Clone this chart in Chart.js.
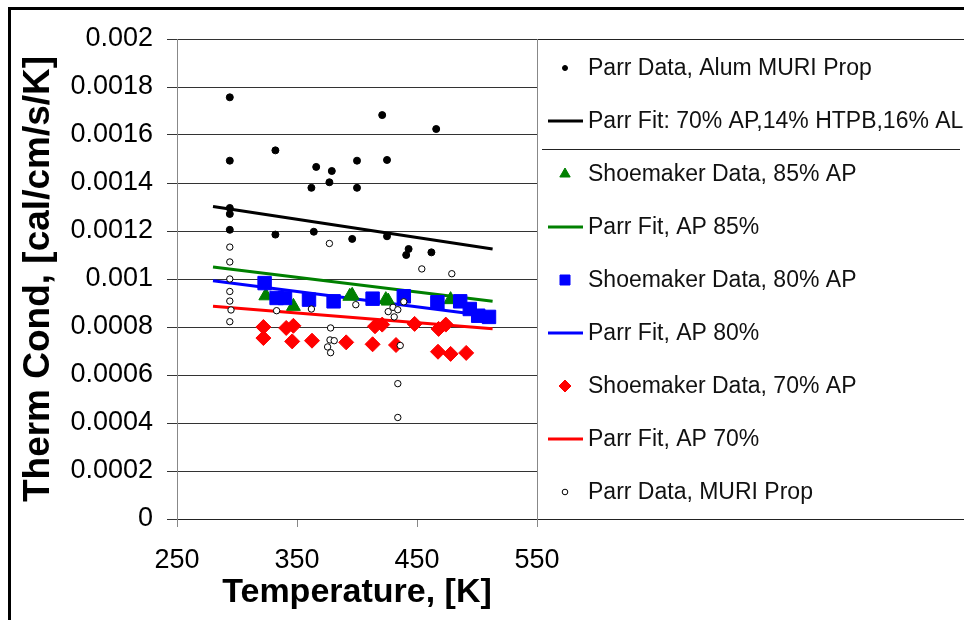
<!DOCTYPE html>
<html>
<head>
<meta charset="utf-8">
<script src="https://cdn.jsdelivr.net/npm/chart.js@4"></script>
<style>
  html, body { margin: 0; padding: 0; background: #fff; overflow: hidden; }
  #wrap { width: 964px; height: 620px; position: relative; }
</style>
</head>
<body>
<div id="wrap"><canvas id="condChart"></canvas></div>
<script>
const FONT = '"Liberation Sans", Arial, sans-serif';

// Parr Data, Alum MURI Prop (filled black dots)
const alumTemp = [294, 294, 294, 294, 294, 332, 332, 362, 364, 366, 377, 379, 396, 400, 400, 421, 425, 425, 441, 443, 462, 466];
const alumCond = [0.001757, 0.001493, 0.001296, 0.001271, 0.001205, 0.001536, 0.001185, 0.00138, 0.001197, 0.001467, 0.001403, 0.00145,
  0.001167, 0.001493, 0.00138, 0.001683, 0.001496, 0.001178, 0.0011, 0.001125, 0.001111, 0.001625];

// Parr Data, MURI Prop (open circles)
const muriTemp = [294, 294, 294, 294, 294, 295, 294, 333, 362, 377, 375.5, 377.5, 378, 378, 381, 399, 426, 430, 431, 434, 434, 434, 436, 439, 454, 479];
const muriCond = [0.001133, 0.001071, 0.001, 0.000948, 0.000908, 0.000871, 0.000822, 0.000868, 0.000875, 0.001148, 0.000717, 0.000746, 0.000693,
  0.000796, 0.000743, 0.000893, 0.000864, 0.000882, 0.000842, 0.000872, 0.000564, 0.000423, 0.000723, 0.000905, 0.001042, 0.001022];

// Shoemaker data
const ap85Temp = [324, 347, 394, 396, 424, 426, 478];
const ap85Cond = [0.00093, 0.000886, 0.000928, 0.000932, 0.000914, 0.000908, 0.000914];

const ap80Temp = [323, 333, 340, 360, 380.5, 413, 439, 467, 486, 494, 501, 510];
const ap80Cond = [0.000983, 0.000921, 0.000921, 0.000914, 0.000907, 0.000918, 0.000928, 0.000903, 0.000907, 0.000875, 0.000847, 0.000842];

const ap70Temp = [322, 322, 341, 347, 346, 362.5, 391, 413, 415, 421, 432.5, 448, 468, 474, 467.5, 478, 491];
const ap70Cond = [0.0008, 0.000754, 0.000796, 0.000805, 0.00074, 0.000743, 0.000736, 0.000728, 0.000803, 0.00081, 0.000725, 0.000813,
  0.000792, 0.00081, 0.000697, 0.000688, 0.000692];

// Parr fits (end points)
const fitTemp = [280, 513];
const fitAlum = [0.0013025, 0.001125];
const fit85 = [0.00105, 0.000907];
const fit80 = [0.000993, 0.000844];
const fit70 = [0.000886, 0.000793];

const xTicks = [250, 350, 450, 550];
const yTicks = [0, 0.0002, 0.0004, 0.0006, 0.0008, 0.001, 0.0012, 0.0014, 0.0016, 0.0018, 0.002];
const yTickLabels = ["0", "0.0002", "0.0004", "0.0006", "0.0008", "0.001", "0.0012", "0.0014", "0.0016", "0.0018", "0.002"];

const pts = (xs, ys) => xs.map((x, i) => ({ x: x, y: ys[i] }));

function scatterSet(label, xs, ys, style, radius, fill, border, order, legendRadius) {
  return {
    label: label,
    data: pts(xs, ys),
    showLine: false,
    pointStyle: style,
    pointRadius: radius,
    pointBackgroundColor: fill,
    pointBorderColor: border,
    pointBorderWidth: 1,
    order: order,
    legendRadius: legendRadius
  };
}

function fitSet(label, ys, color) {
  return {
    label: label,
    data: pts(fitTemp, ys),
    showLine: true,
    borderColor: color,
    borderWidth: 3,
    pointRadius: 0,
    order: 6
  };
}

// legend drawn on the right, with a rule under the second entry
const sideLegend = {
  id: "sideLegend",
  beforeDraw(chart) {
    const ctx = chart.ctx;
    ctx.save();
    ctx.fillStyle = "#fff";
    ctx.fillRect(0, 0, chart.width, chart.height);
    ctx.restore();
  },
  afterDraw(chart) {
    const ctx = chart.ctx;
    const a = chart.chartArea;
    ctx.save();

    // box round the legend
    ctx.lineWidth = 1;
    ctx.strokeStyle = "#222";
    ctx.beginPath();
    ctx.moveTo(a.right, a.top + 0.5); ctx.lineTo(chart.width, a.top + 0.5);
    ctx.moveTo(a.right, a.bottom + 0.5); ctx.lineTo(chart.width, a.bottom + 0.5);
    ctx.moveTo(542, 149.5); ctx.lineTo(960, 149.5);
    ctx.stroke();
    ctx.strokeStyle = "#888";
    ctx.beginPath();
    ctx.moveTo(a.right + 0.5, a.top); ctx.lineTo(a.right + 0.5, a.bottom + 8);
    ctx.stroke();

    ctx.font = "23px " + FONT;
    ctx.textBaseline = "middle";
    ctx.textAlign = "left";
    chart.data.datasets.forEach((ds, i) => {
      const y = 68 + i * 53;
      if (ds.showLine) {
        ctx.strokeStyle = ds.borderColor;
        ctx.lineWidth = 3;
        ctx.beginPath();
        ctx.moveTo(548, y); ctx.lineTo(583, y);
        ctx.stroke();
      } else {
        drawMarker(ctx, ds.pointStyle, 565, y, ds.legendRadius, ds.pointBackgroundColor, ds.pointBorderColor);
      }
      ctx.fillStyle = "#111";
      ctx.fillText(ds.label, 588, y + 1);
    });

    // outer frame
    ctx.fillStyle = "#000";
    ctx.fillRect(8, 7, chart.width - 8, 3);
    ctx.fillRect(8, 7, 3, chart.height - 7);
    ctx.restore();
  }
};

function drawMarker(ctx, style, x, y, r, fill, border) {
  ctx.fillStyle = fill;
  ctx.strokeStyle = border;
  ctx.lineWidth = 1;
  ctx.beginPath();
  if (style === "triangle") {
    ctx.moveTo(x, y - r);
    ctx.lineTo(x + r * 0.866, y + r / 2);
    ctx.lineTo(x - r * 0.866, y + r / 2);
    ctx.closePath();
  } else if (style === "rect") {
    ctx.rect(x - r, y - r, 2 * r, 2 * r);
  } else if (style === "rectRot") {
    ctx.moveTo(x, y - r); ctx.lineTo(x + r, y); ctx.lineTo(x, y + r); ctx.lineTo(x - r, y);
    ctx.closePath();
  } else {
    ctx.arc(x, y, r, 0, Math.PI * 2);
  }
  ctx.fill();
  ctx.stroke();
}

document.addEventListener("DOMContentLoaded", () => {
  const ctx = document.getElementById("condChart").getContext("2d");

  new Chart(ctx, {
    type: "scatter",
    data: {
      datasets: [
        scatterSet("Parr Data, Alum MURI Prop", alumTemp, alumCond, "circle", 3.5, "#000", "#000", 1, 2.5),
        fitSet("Parr Fit: 70% AP,14% HTPB,16% AL", fitAlum, "#000"),
        scatterSet("Shoemaker Data, 85% AP", ap85Temp, ap85Cond, "triangle", 8, "#008000", "#008000", 3, 6),
        fitSet("Parr Fit, AP 85%", fit85, "#008000"),
        scatterSet("Shoemaker Data, 80% AP", ap80Temp, ap80Cond, "rect", 9.5, "#0000ff", "#0000ff", 2, 5),
        fitSet("Parr Fit, AP 80%", fit80, "#0000ff"),
        scatterSet("Shoemaker Data, 70% AP", ap70Temp, ap70Cond, "rectRot", 7.5, "#ff0000", "#ff0000", 2, 6),
        fitSet("Parr Fit, AP 70%", fit70, "#ff0000"),
        scatterSet("Parr Data, MURI Prop", muriTemp, muriCond, "circle", 3.2, "#fff", "#000", 0, 2.8)
      ]
    },
    options: {
      responsive: true,
      maintainAspectRatio: false,
      animation: false,
      layout: {
        padding: { top: 39, right: 427, bottom: 0, left: 0 }
      },
      plugins: {
        legend: { display: false },
        tooltip: { enabled: false }
      },
      scales: {
        x: {
          type: "linear",
          min: 250,
          max: 550,
          afterBuildTicks: (s) => { s.ticks = xTicks.map(v => ({ value: v })); },
          afterFit: (s) => { s.height = 101; },
          ticks: {
            color: "#000",
            padding: 17,
            maxRotation: 0,
            autoSkip: false,
            font: { family: FONT, size: 27 }
          },
          grid: {
            drawOnChartArea: false,
            tickLength: 8,
            color: "#888"
          },
          border: { color: "#222" },
          title: {
            display: true,
            text: "Temperature, [K]",
            color: "#000",
            padding: { top: 0, bottom: 10 },
            font: { family: FONT, size: 34, weight: "bold", lineHeight: 1 }
          }
        },
        y: {
          min: 0,
          max: 0.002,
          afterBuildTicks: (s) => { s.ticks = yTicks.map(v => ({ value: v })); },
          afterFit: (s) => { s.width = 177; },
          ticks: {
            color: "#000",
            padding: 14,
            autoSkip: false,
            callback: (v, i) => yTickLabels[i],
            font: { family: FONT, size: 27 }
          },
          grid: {
            color: "#333",
            tickLength: 10
          },
          border: { color: "#888" },
          title: {
            display: true,
            text: "Therm Cond, [cal/cm/s/K]",
            color: "#000",
            padding: { top: 20, bottom: 0 },
            font: { family: FONT, size: 37, weight: "bold", lineHeight: 1 }
          }
        }
      }
    },
    plugins: [sideLegend]
  });
});
</script>
</body>
</html>
